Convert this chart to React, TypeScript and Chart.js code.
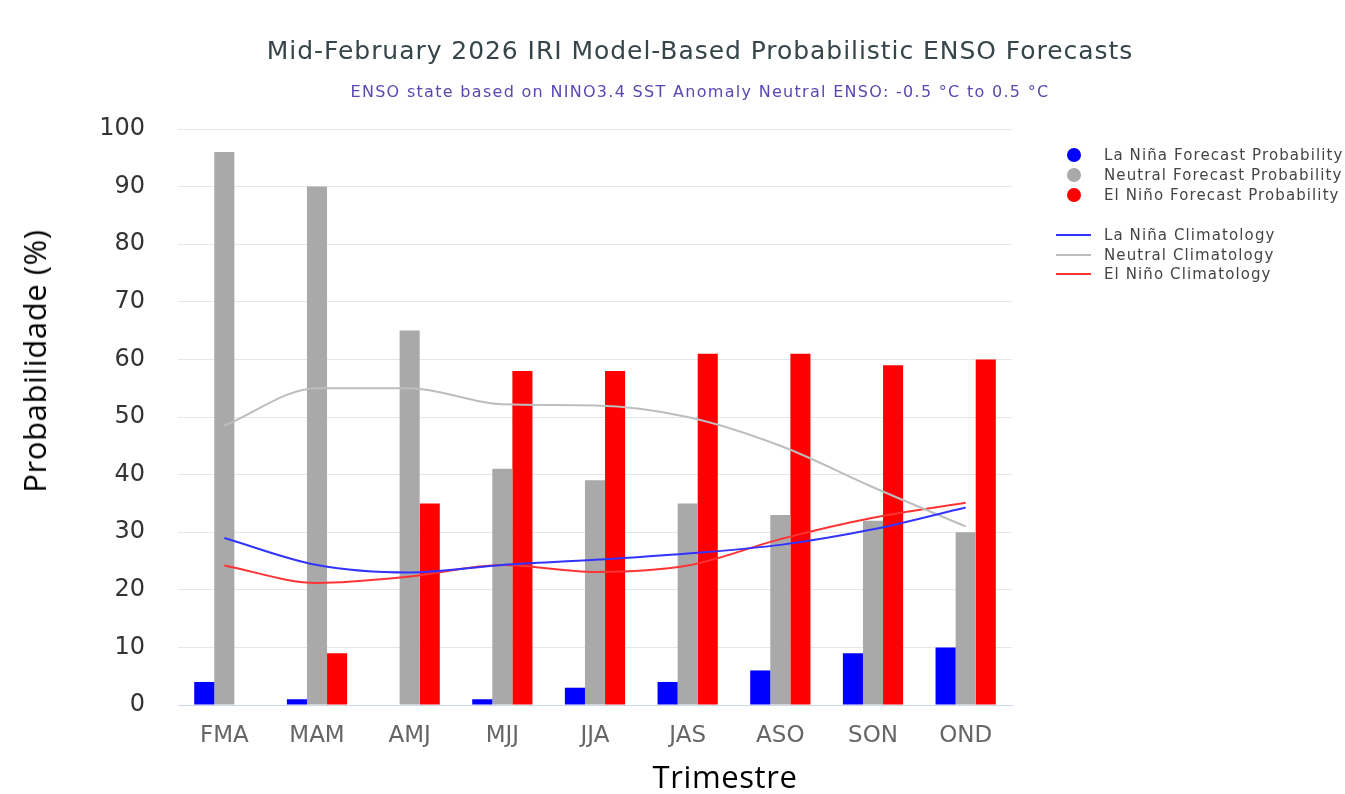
import React, { useEffect, useRef } from "react";
import { Chart, registerables } from "chart.js";

Chart.register(...registerables);

const categories = ["FMA", "MAM", "AMJ", "MJJ", "JJA", "JAS", "ASO", "SON", "OND"];
const laNinaProb = [4, 1, 0, 1, 3, 4, 6, 9, 10];
const neutralProb = [96, 90, 65, 41, 39, 35, 33, 32, 30];
const elNinoProb = [0, 9, 35, 58, 58, 61, 61, 59, 60];
const laNinaClim = [29, 24.3, 23, 24.3, 25.2, 26.3, 27.8, 30.5, 34.3];
const neutralClim = [48.5, 55, 55, 52.2, 52, 50, 45, 37.8, 31];
const elNinoClim = [24.2, 21.2, 22.3, 24.3, 23.1, 24.2, 28.8, 32.5, 35.1];
const yTicks = [0, 10, 20, 30, 40, 50, 60, 70, 80, 90, 100];

const titleText = "Mid-February 2026 IRI Model-Based Probabilistic ENSO Forecasts";
const subtitleText = "ENSO state based on NINO3.4 SST Anomaly Neutral ENSO: -0.5 °C to 0.5 °C";
const yTitle = "Probabilidade (%)";
const xTitle = "Trimestre";
const barLegend = [
  { label: "La Niña Forecast Probability", color: "#0000ff" },
  { label: "Neutral Forecast Probability", color: "#a9a9a9" },
  { label: "El Niño Forecast Probability", color: "#ff0000" },
];
const lineLegend = [
  { label: "La Niña Climatology", color: "#3333ff" },
  { label: "Neutral Climatology", color: "#bdbdbd" },
  { label: "El Niño Climatology", color: "#ff3333" },
];

export default function App() {
  const ref = useRef<HTMLCanvasElement | null>(null);

  useEffect(() => {
    if (!ref.current) return;
    const lineDs = (label: string, data: number[], color: string) => ({
      type: "line" as const,
      label,
      data,
      borderColor: color,
      backgroundColor: color,
      borderWidth: 2,
      pointRadius: 0,
      cubicInterpolationMode: "monotone" as const,
      order: 0,
    });
    const barDs = (label: string, data: number[], color: string) => ({
      type: "bar" as const,
      label,
      data,
      backgroundColor: color,
      borderWidth: 0,
      categoryPercentage: 0.65,
      barPercentage: 1.0,
      order: 1,
    });
    const chart = new Chart(ref.current, {
      type: "bar",
      data: {
        labels: categories,
        datasets: [
          barDs(barLegend[0].label, laNinaProb, barLegend[0].color),
          barDs(barLegend[1].label, neutralProb, barLegend[1].color),
          barDs(barLegend[2].label, elNinoProb, barLegend[2].color),
          lineDs(lineLegend[0].label, laNinaClim, lineLegend[0].color),
          lineDs(lineLegend[1].label, neutralClim, lineLegend[1].color),
          lineDs(lineLegend[2].label, elNinoClim, lineLegend[2].color),
        ] as any,
      },
      options: {
        responsive: false,
        animation: false,
        layout: { padding: { left: 0, right: 333, top: 129, bottom: 0 } },
        plugins: {
          legend: { display: false },
          title: { display: false },
          tooltip: { enabled: false },
        },
        scales: {
          x: {
            offset: true,
            grid: { display: false, drawTicks: false },
            border: { display: true, color: "#ccd6eb", width: 1 },
            ticks: {
              color: "#666666",
              padding: 17,
              font: { family: "DejaVu Sans", size: 23 },
              maxRotation: 0,
            },
            afterFit: (s: any) => {
              s.height = 89;
            },
          },
          y: {
            min: 0,
            max: 100,
            afterBuildTicks: (s: any) => {
              s.ticks = yTicks.map((v) => ({ value: v }));
            },
            grid: { color: "#e6e6e6", drawTicks: false, lineWidth: 1 },
            border: { display: false },
            ticks: {
              color: "#333333",
              padding: 33,
              font: { family: "DejaVu Sans", size: 24 },
            },
            afterFit: (s: any) => {
              s.width = 178;
            },
          },
        },
      },
    });
    return () => chart.destroy();
  }, []);

  const legendText: React.CSSProperties = {
    position: "absolute",
    left: 1104,
    fontFamily: "DejaVu Sans",
    fontSize: 15,
    letterSpacing: "1.1px",
    color: "#444444",
    whiteSpace: "nowrap",
    lineHeight: "16px",
  };

  return (
    <div
      style={{
        position: "fixed",
        left: 0,
        top: 0,
        width: 1345,
        height: 794,
        background: "#ffffff",
        overflow: "hidden",
      }}
    >
      <canvas ref={ref} width={1345} height={794} style={{ position: "absolute", left: 0, top: 0 }} />
      <div
        style={{
          position: "absolute",
          left: 0,
          width: 1400,
          top: 36,
          textAlign: "center",
          fontFamily: "DejaVu Sans",
          fontSize: 25,
          letterSpacing: "0.95px",
          color: "#36454a",
          whiteSpace: "nowrap",
        }}
      >
        {titleText}
      </div>
      <div
        style={{
          position: "absolute",
          left: 0,
          width: 1400,
          top: 82,
          textAlign: "center",
          fontFamily: "DejaVu Sans",
          fontSize: 16,
          letterSpacing: "1.3px",
          color: "#5a48b0",
          whiteSpace: "nowrap",
        }}
      >
        {subtitleText}
      </div>
      <div
        style={{
          position: "absolute",
          left: 34,
          top: 361,
          transform: "translate(-50%, -50%) rotate(-90deg)",
          fontFamily: "Open Sans",
          fontSize: 31,
          letterSpacing: "0.6px",
          color: "#000000",
          whiteSpace: "nowrap",
        }}
      >
        {yTitle}
      </div>
      <div
        style={{
          position: "absolute",
          left: 725,
          top: 776,
          transform: "translate(-50%, -50%)",
          fontFamily: "Open Sans",
          fontSize: 31,
          letterSpacing: "0.6px",
          color: "#000000",
          whiteSpace: "nowrap",
        }}
      >
        {xTitle}
      </div>
      {barLegend.map((item, i) => (
        <React.Fragment key={item.label}>
          <div
            style={{
              position: "absolute",
              left: 1067,
              top: 148 + i * 20,
              width: 14,
              height: 14,
              borderRadius: 7,
              background: item.color,
            }}
          />
          <div style={{ ...legendText, top: 147 + i * 20 }}>{item.label}</div>
        </React.Fragment>
      ))}
      {lineLegend.map((item, i) => (
        <React.Fragment key={item.label}>
          <div
            style={{
              position: "absolute",
              left: 1056,
              top: 234 + i * 19.5,
              width: 35,
              height: 2,
              background: item.color,
            }}
          />
          <div style={{ ...legendText, top: 227 + i * 19.5 }}>{item.label}</div>
        </React.Fragment>
      ))}
    </div>
  );
}
